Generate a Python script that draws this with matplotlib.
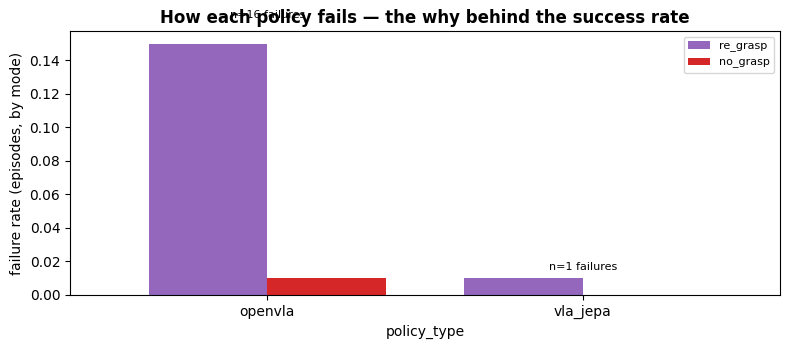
import matplotlib
matplotlib.use("Agg")
import matplotlib.pyplot as plt
import numpy as np

policies = ["openvla", "vla_jepa"]
modes = ["re_grasp", "no_grasp"]
re_grasp = [0.15, 0.01]
no_grasp = [0.01, 0.0]
n_failures = [16, 1]
colors = ["#9467bd", "#d62728"]

fig = plt.figure(figsize=(7.9, 3.49), dpi=100)
ax = fig.add_axes([70/790, 1 - 295/349, 710/790, 264/349])

x = np.arange(len(policies))
w = 0.375
series = [re_grasp, no_grasp]
for i, (name, vals) in enumerate(zip(modes, series)):
    ax.bar(x + (i - 0.5) * w, vals, width=w, align="center", color=colors[i], label=name)

totals = np.array(re_grasp) + np.array(no_grasp)
for xi, t, n in zip(x, totals, n_failures):
    ax.text(xi, t + 0.004, f"n={n} failures", ha="center", va="bottom", fontsize=8)

ax.set_xlim(-0.625, 1.625)
ax.set_xticks(x)
ax.set_xticklabels(policies)
ax.set_xlabel("policy_type")
ax.set_ylabel("failure rate (episodes, by mode)")
ax.set_title("How each policy fails — the why behind the success rate", fontweight="bold")
ax.legend(loc="upper right", fontsize=8)

fig.savefig("out.png", dpi=100)
